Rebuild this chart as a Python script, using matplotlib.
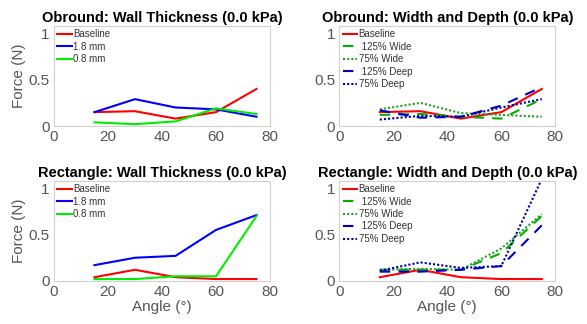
import matplotlib.pyplot as plt
import numpy as np

plt.rcParams['font.family'] = ['Liberation Sans', 'DejaVu Sans']

angles = [15, 30, 45, 60, 75]

# obround, wall thickness
ob_base = [0.15, 0.16, 0.08, 0.15, 0.40]
ob_18 = [0.15, 0.29, 0.20, 0.18, 0.10]
ob_08 = [0.04, 0.02, 0.05, 0.19, 0.13]

# obround, width and depth
ob_w125 = [0.12, 0.13, 0.10, 0.08, 0.29]
ob_w75 = [0.18, 0.25, 0.14, 0.12, 0.10]
ob_d125 = [0.17, 0.09, 0.10, 0.22, 0.42]
ob_d75 = [0.07, 0.11, 0.10, 0.20, 0.29]

# rectangle, wall thickness
re_base = [0.04, 0.12, 0.04, 0.02, 0.02]
re_18 = [0.17, 0.25, 0.27, 0.55, 0.71]
re_08 = [0.02, 0.02, 0.05, 0.05, 0.70]

# rectangle, width and depth
re_w125 = [0.12, 0.12, 0.12, 0.30, 0.70]
re_w75 = [0.12, 0.13, 0.12, 0.35, 0.72]
re_d125 = [0.10, 0.10, 0.12, 0.16, 0.60]
re_d75 = [0.11, 0.20, 0.14, 0.16, 1.10]

fig = plt.figure(figsize=(5.87, 3.24), dpi=100)
pos = [[0.092, 0.611, 0.368, 0.309], [0.578, 0.611, 0.368, 0.309],
       [0.092, 0.133, 0.368, 0.309], [0.578, 0.133, 0.368, 0.309]]
titles = ['Obround: Wall Thickness (0.0 kPa)', 'Obround: Width and Depth (0.0 kPa)',
          'Rectangle: Wall Thickness (0.0 kPa)', 'Rectangle: Width and Depth (0.0 kPa)']

axes = [fig.add_axes(p) for p in pos]

def style(ax, i):
    ax.set_xlim(0, 80)
    ax.set_ylim(0, 1.08)
    ax.set_xticks([0, 20, 40, 60, 80])
    ax.set_yticks([0, 0.5, 1])
    ax.set_yticklabels(['0', '0.5', '1'])
    ax.tick_params(length=0, labelsize=11, labelcolor='#555555', pad=3)
    for s in ax.spines.values():
        s.set_color('#d0d0d0')
        s.set_linewidth(0.8)
    ax.set_title(titles[i], fontsize=10.5, fontweight='bold', pad=3)
    if i in (0, 2):
        ax.set_ylabel('Force (N)', fontsize=11, color='#555555', labelpad=2)
    if i in (2, 3):
        ax.set_xlabel('Angle (°)', fontsize=11, color='#555555', labelpad=1)

def leg(ax):
    ax.legend(loc='upper left', frameon=False, fontsize=7, handlelength=1.5,
              labelspacing=0.25, borderaxespad=0.15, borderpad=0.2,
              handletextpad=0.15, labelcolor='#333333')

def wall(ax, base, t18, t08):
    ax.plot(angles, base, color='#ff0000', lw=1.5, label='Baseline')
    ax.plot(angles, t18, color='#0000ff', lw=1.5, label='1.8 mm')
    ax.plot(angles, t08, color='#00ee00', lw=1.5, label='0.8 mm')
    leg(ax)

def wd(ax, base, w125, w75, d125, d75):
    ax.plot(angles, base, color='#ff0000', lw=1.5, label='Baseline')
    ax.plot(angles, w125, color='#00b000', lw=1.5, ls=(0, (5, 4)), label=' 125% Wide')
    ax.plot(angles, w75, color='#20a020', lw=1.5, ls=(0, (1, 1)), label='75% Wide')
    ax.plot(angles, d125, color='#0000cc', lw=1.5, ls=(0, (5, 4)), label=' 125% Deep')
    ax.plot(angles, d75, color='#000099', lw=1.5, ls=(0, (1, 1)), label='75% Deep')
    leg(ax)

wall(axes[0], ob_base, ob_18, ob_08)
wd(axes[1], ob_base, ob_w125, ob_w75, ob_d125, ob_d75)
wall(axes[2], re_base, re_18, re_08)
wd(axes[3], re_base, re_w125, re_w75, re_d125, re_d75)

for i, ax in enumerate(axes):
    style(ax, i)

fig.savefig('out.png', dpi=100)
